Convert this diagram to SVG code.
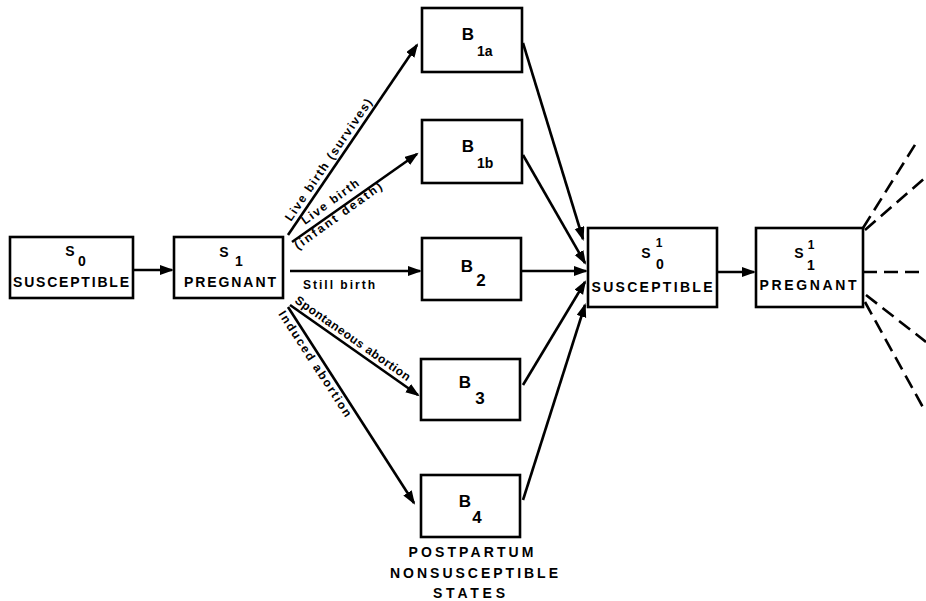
<svg xmlns="http://www.w3.org/2000/svg" width="926" height="601" viewBox="0 0 926 601">
<style>
.box{fill:#fff;stroke:#000;stroke-width:2.6}
.t{font-family:"Liberation Sans",Arial,sans-serif;font-weight:bold;fill:#000}
.lbl{font-size:14px;text-anchor:middle}
.big{font-size:17px;text-anchor:middle}
.sub{font-size:14px}
.s{font-size:14px;text-anchor:middle}
.e{font-size:12px}
.ln{stroke:#000;stroke-width:2.6;fill:none}
.arr{marker-end:url(#ah)}
.dash{stroke:#000;stroke-width:2.6;fill:none;stroke-dasharray:14 7}
</style>
<defs>
<marker id="ah" markerUnits="userSpaceOnUse" markerWidth="16" markerHeight="11" refX="12" refY="5" orient="auto">
<path d="M0,0 L14,5 L0,10 z" fill="#000"/>
</marker>
</defs>
<rect width="926" height="601" fill="#fff"/>

<g id="connectors">
<line class="ln arr" x1="133" y1="270" x2="172" y2="270"/>
<line class="ln arr" x1="288" y1="235" x2="417" y2="45"/>
<line class="ln arr" x1="292" y1="242" x2="417" y2="154"/>
<line class="ln arr" x1="290" y1="271" x2="420" y2="271"/>
<line class="ln arr" x1="290" y1="305" x2="418" y2="395"/>
<line class="ln arr" x1="288" y1="307" x2="414" y2="503"/>
<line class="ln arr" x1="523" y1="43" x2="583" y2="239"/>
<line class="ln arr" x1="523" y1="155" x2="585" y2="263"/>
<line class="ln arr" x1="522" y1="271" x2="586" y2="271"/>
<line class="ln arr" x1="523" y1="385" x2="585" y2="282"/>
<line class="ln arr" x1="523" y1="500" x2="585" y2="305"/>
<line class="ln arr" x1="717" y1="272" x2="754" y2="272"/>
<line class="dash" x1="863" y1="228" x2="918" y2="140"/>
<line class="dash" x1="865" y1="230" x2="926" y2="177"/>
<line class="dash" x1="863" y1="272" x2="926" y2="272"/>
<line class="dash" x1="866" y1="295" x2="926" y2="342"/>
<line class="dash" x1="865" y1="302" x2="925" y2="411"/>
</g>

<g id="edge-labels">
<text class="t e" transform="translate(291,222) rotate(-55.8)" textLength="145" lengthAdjust="spacing">Live birth (survives)</text>
<text class="t e" transform="translate(305,225) rotate(-36)" textLength="68" lengthAdjust="spacing">Live birth</text>
<text class="t e" transform="translate(298,250) rotate(-36)" textLength="105" lengthAdjust="spacing">(infant death)</text>
<text class="t e" x="303" y="289" textLength="72" lengthAdjust="spacing">Still birth</text>
<text class="t e" transform="translate(294,302) rotate(35.1)" textLength="138" lengthAdjust="spacing">Spontaneous abortion</text>
<text class="t e" transform="translate(278,314) rotate(57)" textLength="124" lengthAdjust="spacing">Induced abortion</text>
</g>

<g id="S0">
<rect class="box" x="10" y="237" width="123" height="61"/>
<text class="t s" x="70" y="256">S</text>
<text class="t s" x="82" y="266">0</text>
<text class="t lbl" x="71" y="287" textLength="116" lengthAdjust="spacing">SUSCEPTIBLE</text>
</g>

<g id="S1">
<rect class="box" x="174" y="237" width="109" height="61"/>
<text class="t s" x="224" y="257">S</text>
<text class="t s" x="239" y="266">1</text>
<text class="t lbl" x="230" y="287" textLength="92" lengthAdjust="spacing">PREGNANT</text>
</g>

<g id="B1a">
<rect class="box" x="422" y="8" width="100" height="64"/>
<text class="t big" x="468" y="40">B</text>
<text class="t sub" x="477" y="56">1a</text>
</g>

<g id="B1b">
<rect class="box" x="422" y="120" width="100" height="63"/>
<text class="t big" x="468" y="152">B</text>
<text class="t sub" x="477" y="168">1b</text>
</g>

<g id="B2">
<rect class="box" x="422" y="238" width="99" height="62"/>
<text class="t big" x="467" y="272">B</text>
<text class="t big" x="481" y="286">2</text>
</g>

<g id="B3">
<rect class="box" x="421" y="359" width="99" height="61"/>
<text class="t big" x="465" y="388">B</text>
<text class="t big" x="480" y="404">3</text>
</g>

<g id="B4">
<rect class="box" x="421" y="475" width="99" height="62"/>
<text class="t big" x="465" y="507">B</text>
<text class="t big" x="477" y="523">4</text>
</g>

<g id="caption">
<text class="t lbl" x="471" y="557" textLength="125" lengthAdjust="spacing">POSTPARTUM</text>
<text class="t lbl" x="474" y="578" textLength="168" lengthAdjust="spacing">NONSUSCEPTIBLE</text>
<text class="t lbl" x="469" y="598" textLength="72" lengthAdjust="spacing">STATES</text>
</g>

<g id="S0prime">
<rect class="box" x="588" y="228" width="129" height="79"/>
<text class="t s" x="646" y="258">S</text>
<text class="t s" x="659" y="247" style="font-size:12px">1</text>
<text class="t s" x="660" y="269">0</text>
<text class="t lbl" x="652" y="292" textLength="121" lengthAdjust="spacing">SUSCEPTIBLE</text>
</g>

<g id="S1prime">
<rect class="box" x="756" y="228" width="107" height="79"/>
<text class="t s" x="799" y="258">S</text>
<text class="t s" x="811" y="249" style="font-size:12px">1</text>
<text class="t s" x="811" y="270">1</text>
<text class="t lbl" x="808" y="290" textLength="97" lengthAdjust="spacing">PREGNANT</text>
</g>
</svg>
